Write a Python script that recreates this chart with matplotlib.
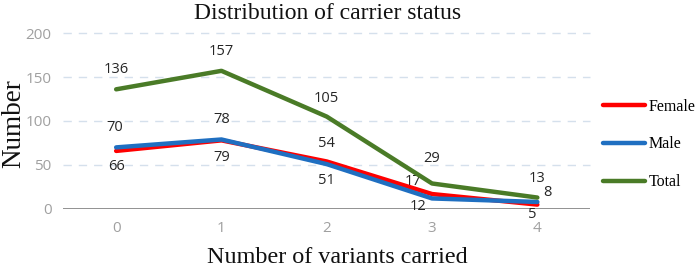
import matplotlib
matplotlib.use("Agg")
import matplotlib.pyplot as plt

categories = ["0", "1", "2", "3", "4"]
female = [66, 78, 54, 17, 5]
male = [70, 79, 51, 12, 8]
total = [136, 157, 105, 29, 13]
yticks = [0, 50, 100, 150, 200]

fig = plt.figure(figsize=(6.99, 2.67), dpi=100)
ax = fig.add_axes([63.5/699, 58/267, (590-63.5)/699, 176/267])
x = list(range(len(categories)))

lf, = ax.plot(x, female, color="#ff0000", lw=3.2, solid_capstyle="round", label="Female", zorder=3)
lm, = ax.plot(x, male, color="#1f6fc1", lw=3.2, solid_capstyle="round", label="Male", zorder=4)
lt, = ax.plot(x, total, color="#4a7b27", lw=3.2, solid_capstyle="round", label="Total", zorder=4)

ax.set_xlim(-0.5, len(categories) - 0.5)
ax.set_ylim(0, 200)
ax.set_xticks(x)
ax.set_xticklabels(categories)
ax.set_yticks(yticks)
for s in ax.spines.values():
    s.set_visible(False)
ax.axhline(0, color="#7f7f7f", lw=1.2, zorder=2)
for v in yticks[1:]:
    ax.axhline(v, color="#d5e0ec", lw=1.0, ls=(0, (6, 5)), zorder=1, clip_on=False)
ax.tick_params(length=0, labelsize=11, labelcolor="#a0a0a0")
ax.tick_params(axis="x", pad=9)
ax.tick_params(axis="y", pad=8.5)
for t in ax.get_xticklabels() + ax.get_yticklabels():
    t.set_family("Open Sans")

lab_kw = dict(fontsize=10.5, color="#262626", ha="center", va="center", family="Open Sans")
t_off = [(0, 14), (0, 14), (0, 13.3), (0, 18), (0, 14)]
for i, v in enumerate(total):
    ax.annotate(str(v), (i, v), xytext=t_off[i], textcoords="offset points", **lab_kw)
m_off = [(-1, 14.6), (0, -13.3), (0, -11.5), (-10, -6), (7.2, 6.5)]
for i, v in enumerate(male):
    ax.annotate(str(v), (i, v), xytext=m_off[i], textcoords="offset points", **lab_kw)
f_off = [(0, -11.5), (0, 15), (0, 13.3), (-13.7, 9), (-3.6, -6.8)]
for i, v in enumerate(female):
    ax.annotate(str(v), (i, v), xytext=f_off[i], textcoords="offset points", **lab_kw)

fig.text(0.469, 0.95, "Distribution of carrier status", family="Liberation Serif",
         fontsize=17, ha="center", va="center", color="#111111")
fig.text(0.483, 0.015, "Number of variants carried", family="Liberation Serif",
         fontsize=17.4, ha="center", va="baseline", color="#111111")
fig.text(0.02, 0.536, "Number", family="Liberation Serif", fontsize=19.5,
         rotation=90, ha="center", va="center", color="#111111")

leg = fig.legend(handles=[lf, lm, lt], loc="center left", bbox_to_anchor=(603/699, 0.459),
                 frameon=False, prop={"family": "Liberation Serif", "size": 11.5},
                 labelspacing=1.37, handlelength=2.63, handletextpad=0.25,
                 borderpad=0, borderaxespad=0)
for h in leg.get_lines():
    h.set_linewidth(3.2)

fig.savefig("out.png", dpi=100)
